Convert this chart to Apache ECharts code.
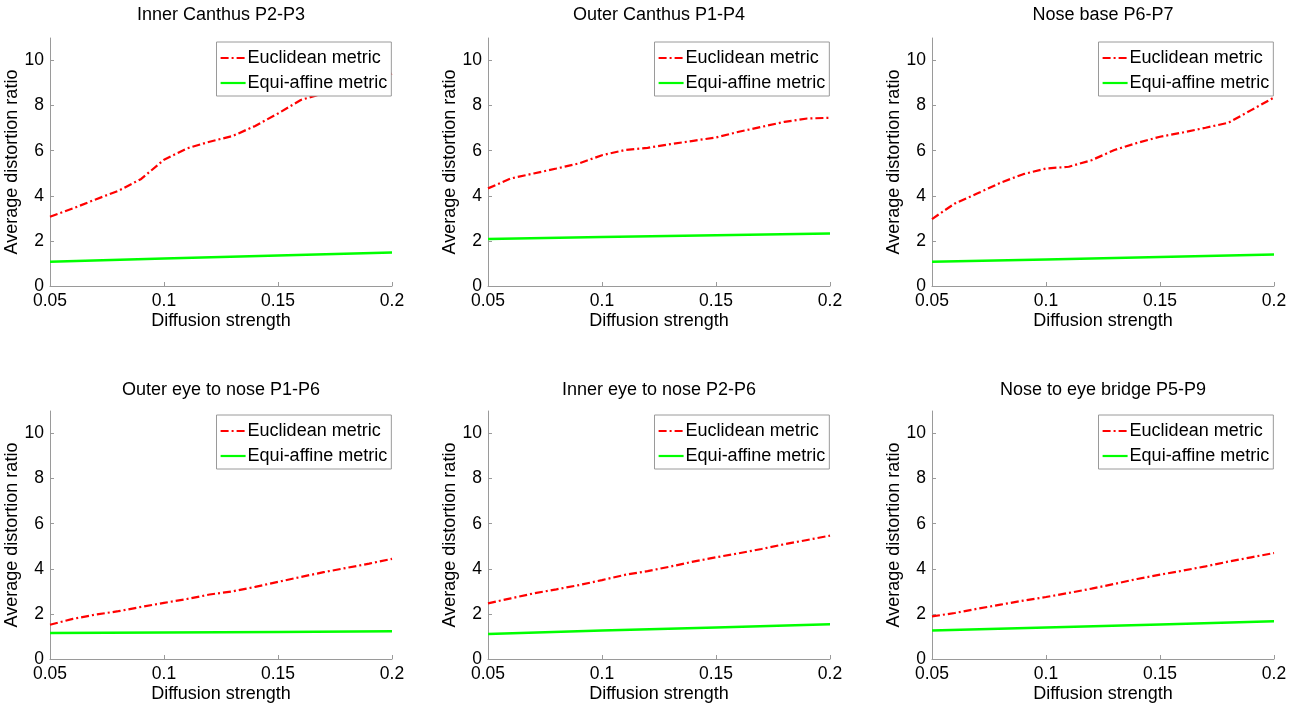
<!DOCTYPE html>
<html>
<head>
<meta charset="utf-8">
<script src="https://cdn.jsdelivr.net/npm/echarts@6/dist/echarts.min.js"></script>
<style>
html,body{margin:0;padding:0;background:#fff;}
#chart{width:1295px;height:707px;}
</style>
</head>
<body>
<div id="chart"></div>
<script>
// ---- data ----
const xs = [0.05,0.06,0.07,0.08,0.09,0.10,0.11,0.12,0.13,0.14,0.15,0.16,0.17,0.18,0.19,0.20];
const xsGreen = [0.05,0.10,0.15,0.20];
const xTicks = [0.05,0.1,0.15,0.2];
const yTicks = [0,2,4,6,8,10];
const titles = ["Inner Canthus P2-P3","Outer Canthus P1-P4","Nose base P6-P7",
                "Outer eye to nose P1-P6","Inner eye to nose P2-P6","Nose to eye bridge P5-P9"];
const seriesNames = ["Euclidean metric","Equi-affine metric"];

const euclid1 = [3.07,3.44,3.84,4.22,4.75,5.6,6.1,6.4,6.65,7.1,7.65,8.25,8.55,8.85,9.15,9.42];
const euclid2 = [4.33,4.77,4.99,5.21,5.44,5.8,6.03,6.13,6.29,6.44,6.59,6.84,7.06,7.28,7.43,7.46];
const euclid3 = [2.97,3.66,4.11,4.58,4.96,5.21,5.29,5.58,6.03,6.35,6.62,6.81,7.02,7.24,7.8,8.36];
const euclid4 = [1.52,1.78,1.97,2.12,2.31,2.49,2.66,2.86,3.0,3.2,3.42,3.64,3.85,4.04,4.23,4.44];
const euclid5 = [2.47,2.69,2.91,3.09,3.28,3.5,3.73,3.9,4.1,4.32,4.51,4.69,4.88,5.09,5.28,5.47];
const euclid6 = [1.89,2.04,2.23,2.41,2.59,2.75,2.93,3.12,3.33,3.55,3.74,3.92,4.11,4.32,4.51,4.70];

const affine1 = [1.08,1.22,1.35,1.49];
const affine2 = [2.08,2.17,2.25,2.33];
const affine3 = [1.08,1.18,1.29,1.40];
const affine4 = [1.15,1.18,1.20,1.23];
const affine5 = [1.11,1.26,1.40,1.54];
const affine6 = [1.26,1.40,1.53,1.67];

const euclids = [euclid1,euclid2,euclid3,euclid4,euclid5,euclid6];
const affines = [affine1,affine2,affine3,affine4,affine5,affine6];

// ---- layout ----
const colLeft = [50, 488, 932];
const rowTop = [38, 411];
const plotW = 342, plotH = 248;
const FONT = 'Liberation Sans, Arial, sans-serif';
const axisGray = '#9a9a9a';

const grids = [], xAxes = [], yAxes = [], series = [], titleArr = [], legends = [];
for (let i = 0; i < 6; i++) {
  const r = Math.floor(i / 3), c = i % 3;
  const left = colLeft[c], top = rowTop[r];
  grids.push({left: left, top: top, width: plotW, height: plotH, containLabel: false});
  xAxes.push({
    type: 'value', gridIndex: i, min: 0.05, max: 0.2, interval: 0.05,
    name: 'Diffusion strength', nameLocation: 'middle', nameGap: 26,
    nameTextStyle: {color: '#000', fontSize: 18, fontFamily: FONT},
    axisLine: {show: true, onZero: false, lineStyle: {color: axisGray, width: 1}},
    axisTick: {show: true, inside: true, length: 4, lineStyle: {color: axisGray}, customValues: xTicks},
    axisLabel: {color: '#000', fontSize: 17.5, fontFamily: FONT, margin: 6, customValues: xTicks,
      formatter: v => String(+v.toFixed(2))},
    splitLine: {show: false}
  });
  yAxes.push({
    type: 'value', gridIndex: i, min: 0, max: 11, interval: 2,
    name: 'Average distortion ratio', nameLocation: 'middle', nameGap: 22,
    nameTextStyle: {color: '#000', fontSize: 18, fontFamily: FONT},
    axisLine: {show: true, lineStyle: {color: axisGray, width: 1}},
    axisTick: {show: true, inside: true, length: 4, lineStyle: {color: axisGray}, customValues: yTicks},
    axisLabel: {color: '#000', fontSize: 17.5, fontFamily: FONT, margin: 6, customValues: yTicks},
    splitLine: {show: false}
  });
  series.push({
    name: seriesNames[0], type: 'line', xAxisIndex: i, yAxisIndex: i,
    data: xs.map((x, k) => [x, euclids[i][k]]),
    showSymbol: false, symbol: 'none', smooth: false, silent: true, animation: false,
    lineStyle: {color: '#ff0000', width: 2.2, type: [8, 3, 2, 3]},
    itemStyle: {color: '#ff0000'}, z: 2
  });
  series.push({
    name: seriesNames[1], type: 'line', xAxisIndex: i, yAxisIndex: i,
    data: xsGreen.map((x, k) => [x, affines[i][k]]),
    showSymbol: false, symbol: 'none', silent: true, animation: false,
    lineStyle: {color: '#00ff00', width: 2.5, type: 'solid'},
    itemStyle: {color: '#00ff00'}, z: 2
  });
  titleArr.push({
    text: titles[i], left: left + plotW / 2, textAlign: 'center',
    top: r === 0 ? 6 : 381, padding: 0,
    textStyle: {color: '#000', fontSize: 18, fontWeight: 'normal', fontFamily: FONT}
  });
  legends.push({
    show: true, orient: 'vertical',
    left: left + plotW - 175.5, top: top + 4,
    data: seriesNames,
    backgroundColor: '#fff', borderColor: axisGray, borderWidth: 1,
    padding: [7, 4, 4, 3], itemGap: 7, itemWidth: 25, itemHeight: 14,
    selectedMode: false, z: 10,
    itemStyle: {opacity: 0},
    lineStyle: {width: 2.2},
    textStyle: {color: '#000', fontSize: 18, fontFamily: FONT, lineHeight: 18, padding: [0, 0, 0, -3]}
  });
}

const chart = echarts.init(document.getElementById('chart'), null, {renderer: 'canvas'});
chart.setOption({
  animation: false,
  backgroundColor: '#fff',
  title: titleArr,
  legend: legends,
  grid: grids,
  xAxis: xAxes,
  yAxis: yAxes,
  series: series
});
</script>
</body>
</html>
